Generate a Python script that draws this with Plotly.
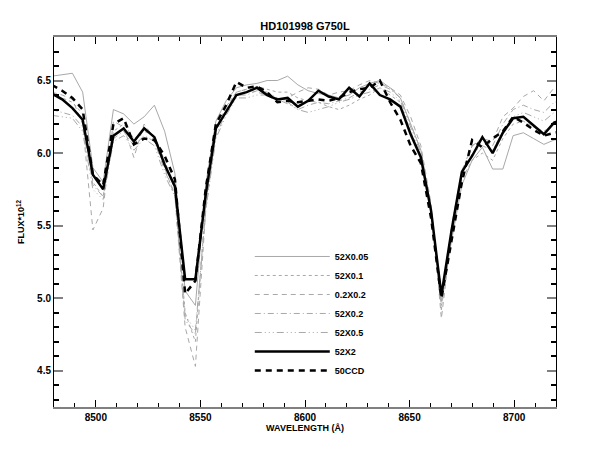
import plotly.graph_objects as go

wavelength = [8479.0, 8483.9, 8488.8, 8493.7, 8498.6, 8503.5, 8508.4, 8513.3, 8518.2, 8523.1,
              8528.0, 8532.9, 8537.8, 8542.7, 8547.6, 8552.5, 8557.4, 8562.3, 8567.2, 8572.1,
              8577.0, 8581.9, 8586.8, 8591.7, 8596.6, 8601.5, 8606.4, 8611.3, 8616.2, 8621.1,
              8626.0, 8630.9, 8635.8, 8640.7, 8645.6, 8650.5, 8655.4, 8660.3, 8665.2, 8670.1,
              8675.0, 8679.9, 8684.8, 8689.7, 8694.6, 8699.5, 8704.4, 8709.3, 8714.2, 8719.1,
              8724.0]

s52x005 = [6.53, 6.54, 6.55, 6.42, 5.90, 5.80, 6.30, 6.27, 6.20, 6.25,
           6.33, 6.15, 5.86, 5.05, 4.95, 5.78, 6.22, 6.36, 6.45, 6.47,
           6.48, 6.50, 6.50, 6.53, 6.47, 6.43, 6.41, 6.40, 6.38, 6.40,
           6.45, 6.48, 6.50, 6.45, 6.38, 6.20, 6.02, 5.62, 4.98, 5.40,
           5.78, 5.95, 6.04, 5.89, 5.89, 6.12, 6.14, 6.10, 6.06, 6.09,
           6.10]
s52x01 = [6.40, 6.38, 6.35, 6.27, 5.80, 5.70, 6.15, 6.20, 6.10, 6.15,
          6.12, 5.95, 5.75, 4.90, 4.70, 5.65, 6.17, 6.32, 6.42, 6.44,
          6.46, 6.44, 6.42, 6.42, 6.38, 6.36, 6.35, 6.32, 6.30, 6.33,
          6.37, 6.40, 6.45, 6.40, 6.35, 6.15, 5.98, 5.58, 4.95, 5.45,
          5.82, 5.95, 6.00, 5.95, 6.10, 6.20, 6.22, 6.18, 6.15, 6.20,
          6.22]
s02x02 = [6.42, 6.40, 6.37, 6.20, 5.47, 5.62, 6.22, 6.18, 5.97, 6.20,
          6.10, 5.90, 5.70, 4.80, 4.53, 5.60, 6.15, 6.30, 6.42, 6.44,
          6.42, 6.40, 6.35, 6.38, 6.42, 6.45, 6.44, 6.40, 6.42, 6.43,
          6.47, 6.50, 6.48, 6.45, 6.40, 6.25, 6.05, 5.65, 4.86, 5.45,
          5.85, 6.05, 6.10, 6.08, 6.25, 6.31, 6.39, 6.43, 6.36, 6.45,
          6.46]
s52x02 = [6.30, 6.28, 6.26, 6.18, 5.78, 5.70, 6.10, 6.15, 6.05, 6.12,
          6.08, 5.88, 5.72, 4.85, 4.75, 5.62, 6.12, 6.28, 6.40, 6.40,
          6.43, 6.42, 6.38, 6.35, 6.30, 6.33, 6.35, 6.34, 6.36, 6.38,
          6.42, 6.44, 6.47, 6.44, 6.38, 6.20, 6.02, 5.62, 4.92, 5.50,
          5.88, 6.05, 6.10, 6.05, 6.20, 6.30, 6.33, 6.30, 6.28, 6.35,
          6.36]
s52x05 = [6.26, 6.25, 6.24, 6.15, 5.75, 5.68, 6.08, 6.12, 6.02, 6.10,
          6.05, 5.85, 5.70, 4.88, 4.78, 5.60, 6.10, 6.26, 6.38, 6.38,
          6.40, 6.40, 6.37, 6.34, 6.30, 6.28, 6.30, 6.32, 6.35, 6.37,
          6.40, 6.42, 6.45, 6.42, 6.36, 6.18, 6.00, 5.60, 4.95, 5.48,
          5.85, 6.00, 6.05, 6.02, 6.15, 6.25, 6.28, 6.25, 6.22, 6.28,
          6.29]
s52x2 = [6.41, 6.37, 6.31, 6.23, 5.85, 5.75, 6.12, 6.17, 6.08, 6.17,
         6.11, 5.92, 5.77, 5.13, 5.13, 5.71, 6.17, 6.29, 6.40, 6.42,
         6.45, 6.40, 6.37, 6.38, 6.32, 6.36, 6.43, 6.39, 6.37, 6.45,
         6.39, 6.48, 6.40, 6.37, 6.32, 6.13, 5.97, 5.60, 5.02, 5.47,
         5.87, 5.98, 6.11, 6.00, 6.14, 6.24, 6.25, 6.19, 6.13, 6.21,
         6.24]
s50ccd = [6.47, 6.43, 6.38, 6.30, 5.85, 5.78, 6.20, 6.24, 6.06, 6.10,
          6.09, 5.98, 5.82, 5.03, 5.12, 5.75, 6.20, 6.33, 6.49, 6.45,
          6.46, 6.42, 6.35, 6.36, 6.35, 6.36, 6.37, 6.36, 6.38, 6.42,
          6.44, 6.45, 6.50, 6.35, 6.23, 6.05, 5.93, 5.55, 5.00, 5.40,
          5.80, 6.09, 6.04, 6.10, 6.15, 6.25, 6.21, 6.16, 6.12, 6.14,
          6.15]

series_names = ["52X0.05", "52X0.1", "0.2X0.2", "52X0.2", "52X0.5", "52X2", "50CCD"]
series_values = [s52x005, s52x01, s02x02, s52x02, s52x05, s52x2, s50ccd]
styles = [
    dict(color="#a8a8a8", width=1, dash="solid"),
    dict(color="#a8a8a8", width=1, dash="dot"),
    dict(color="#a8a8a8", width=1, dash="5px,4px"),
    dict(color="#a8a8a8", width=1, dash="6px,3px,1px,3px"),
    dict(color="#a8a8a8", width=1, dash="7px,3px,1px,3px,1px,3px,1px,3px"),
    dict(color="black", width=2.5, dash="solid"),
    dict(color="black", width=2.5, dash="6px,5px"),
]

fig = go.Figure()
for name, vals, st in zip(series_names, series_values, styles):
    fig.add_trace(go.Scatter(x=wavelength, y=vals, mode="lines", name=name, line=st))

font_family = "Liberation Sans, Arial, sans-serif"
fig.update_layout(
    width=615, height=469,
    margin=dict(l=46, r=67, t=29, b=70),
    paper_bgcolor="white", plot_bgcolor="white",
    title=dict(text="HD101998 G750L", x=0.5, xref="paper", y=1 - 18 / 469, yref="container",
               xanchor="center", yanchor="middle",
               font=dict(family=font_family, size=11, color="black", weight="bold")),
    font=dict(family=font_family, size=10, color="black", weight="bold"),
    legend=dict(x=0.39, y=0.446, xanchor="left", yanchor="top", bgcolor="rgba(0,0,0,0)",
                itemwidth=75, tracegroupgap=0,
                font=dict(family=font_family, size=9, color="black", weight="bold")),
    xaxis=dict(range=[8480, 8720], tickmode="linear", tick0=8500, dtick=50,
               ticks="inside", ticklen=7, tickwidth=1, tickcolor="black",
               minor=dict(dtick=10, ticks="inside", ticklen=4, tickcolor="black"),
               showline=True, linecolor="#808080", linewidth=2, mirror="allticks",
               showgrid=False, zeroline=False,
               tickfont=dict(family=font_family, size=10, color="black", weight="bold"),
               title=dict(text="WAVELENGTH (Å)", standoff=1,
                          font=dict(family=font_family, size=9, color="black", weight="bold"))),
    yaxis=dict(range=[4.25, 6.8], tickmode="linear", tick0=4.5, dtick=0.5, tickformat=".1f",
               ticks="inside", ticklen=9, tickwidth=2, tickcolor="#808080",
               minor=dict(dtick=0.1, ticks="inside", ticklen=5, tickcolor="black"),
               showline=True, linecolor="black", linewidth=1, mirror="allticks",
               showgrid=False, zeroline=False,
               tickfont=dict(family=font_family, size=10, color="black", weight="bold"),
               title=dict(text="FLUX*10<sup>12</sup>", standoff=10,
                          font=dict(family=font_family, size=9, color="black", weight="bold"))),
)

fig.write_html("out.html")
